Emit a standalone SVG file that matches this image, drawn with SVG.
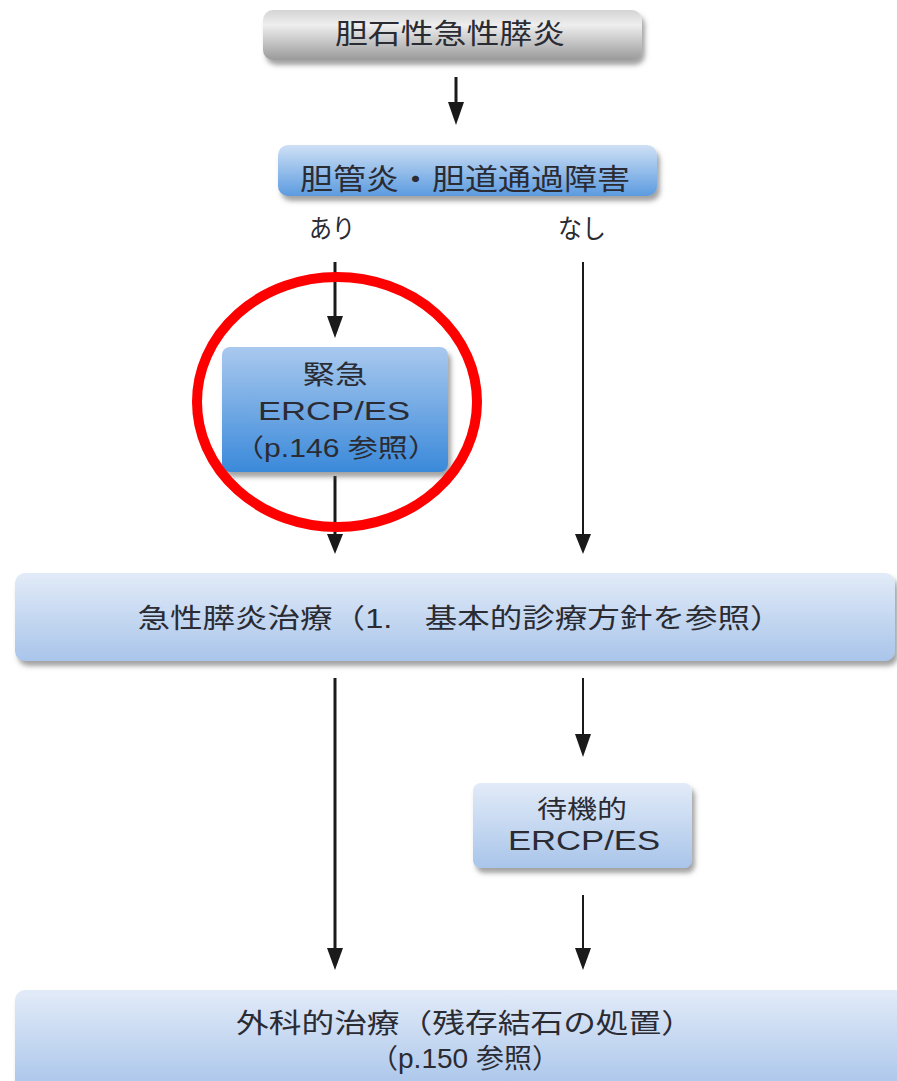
<svg xmlns="http://www.w3.org/2000/svg" width="897" height="1081" viewBox="0 0 897 1081">
<defs>
<linearGradient id="gGray" x1="0" y1="0" x2="0" y2="1">
<stop offset="0" stop-color="#d4d4d4"/>
<stop offset="0.3" stop-color="#eeeeee"/>
<stop offset="1" stop-color="#9a9a9a"/>
</linearGradient>
<linearGradient id="gBlue" x1="0" y1="0" x2="0" y2="1">
<stop offset="0" stop-color="#cfe0f5"/>
<stop offset="1" stop-color="#5b9be0"/>
</linearGradient>
<linearGradient id="gBlueStrong" x1="0" y1="0" x2="0" y2="1">
<stop offset="0" stop-color="#a9c9ee"/>
<stop offset="1" stop-color="#3a89da"/>
</linearGradient>
<linearGradient id="gPale" x1="0" y1="0" x2="0" y2="1">
<stop offset="0" stop-color="#e2ebf8"/>
<stop offset="1" stop-color="#a9c5ea"/>
</linearGradient>
<filter id="shadow" x="-10%" y="-20%" width="120%" height="150%">
<feDropShadow dx="3" dy="5" stdDeviation="2.5" flood-color="#555" flood-opacity="0.55"/>
</filter>
</defs>
<style>
.t{font-family:"Liberation Sans","Noto Sans CJK JP",sans-serif;fill:#2a2b33;text-anchor:middle;}
.c{fill:none;stroke:#1a1a1a;}
.thick{stroke-width:3;}
.thin{stroke-width:2;}
.head{fill:#1a1a1a;}
.box{filter:url(#shadow);}
</style>
<rect width="897" height="1081" fill="#ffffff"/>

<g id="connectors">
<line class="c thick" x1="456" y1="77" x2="456" y2="104"/>
<path class="head" d="M448,102 L464,102 L456,125 Z"/>
<line class="c thick" x1="335" y1="262" x2="335" y2="318"/>
<path class="head" d="M327,316 L343,316 L335,338 Z"/>
<line class="c thick" x1="335" y1="476" x2="335" y2="536"/>
<path class="head" d="M327,534 L343,534 L335,554 Z"/>
<line class="c thin" x1="583" y1="262" x2="583" y2="536"/>
<path class="head" d="M575,534 L591,534 L583,554 Z"/>
<line class="c thick" x1="335" y1="678" x2="335" y2="950"/>
<path class="head" d="M327,948 L343,948 L335,970 Z"/>
<line class="c thin" x1="583" y1="678" x2="583" y2="736"/>
<path class="head" d="M575,734 L591,734 L583,757 Z"/>
<line class="c thin" x1="583" y1="895" x2="583" y2="950"/>
<path class="head" d="M575,948 L591,948 L583,970 Z"/>
</g>

<g id="n1">
<rect class="box" x="263" y="10" width="379" height="50" rx="10" fill="url(#gGray)"/>
<text class="t" x="450" y="44" font-size="28" textLength="230" lengthAdjust="spacingAndGlyphs">胆石性急性膵炎</text>
</g>

<g id="n2">
<rect class="box" x="278" y="145" width="379" height="51" rx="10" fill="url(#gBlue)"/>
<text class="t" x="465" y="190" font-size="29" textLength="330" lengthAdjust="spacingAndGlyphs">胆管炎・胆道通過障害</text>
</g>

<g id="labels">
<text class="t" x="332" y="238" font-size="26" textLength="46" lengthAdjust="spacingAndGlyphs">あり</text>
<text class="t" x="582" y="238" font-size="26" textLength="48" lengthAdjust="spacingAndGlyphs">なし</text>
</g>

<g id="n3">
<rect class="box" x="222" y="347" width="226" height="125" rx="8" fill="url(#gBlueStrong)"/>
<text class="t" x="335" y="384" font-size="26" textLength="65" lengthAdjust="spacingAndGlyphs">緊急</text>
<text class="t" x="334" y="420" font-size="25" textLength="152" lengthAdjust="spacingAndGlyphs">ERCP/ES</text>
<text class="t" x="336" y="457" font-size="25" textLength="204" lengthAdjust="spacingAndGlyphs">（p.146 参照）</text>
</g>

<ellipse id="highlight" cx="337" cy="402" rx="140" ry="125" fill="none" stroke="#ff0000" stroke-width="10"/>

<g id="n4">
<rect class="box" x="15" y="573" width="880" height="88" rx="10" fill="url(#gPale)"/>
<text class="t" x="460" y="628" font-size="27" textLength="645" lengthAdjust="spacingAndGlyphs">急性膵炎治療（1.　基本的診療方針を参照）</text>
</g>

<g id="n5">
<rect class="box" x="473" y="783" width="219" height="85" rx="8" fill="url(#gPale)"/>
<text class="t" x="582" y="818" font-size="25" textLength="90" lengthAdjust="spacingAndGlyphs">待機的</text>
<text class="t" x="584" y="850" font-size="27" textLength="152" lengthAdjust="spacingAndGlyphs">ERCP/ES</text>
</g>

<g id="n6">
<rect class="box" x="15" y="990" width="890" height="100" rx="10" fill="url(#gPale)"/>
<text class="t" x="465" y="1033" font-size="27" textLength="458" lengthAdjust="spacingAndGlyphs">外科的治療（残存結石の処置）</text>
<text class="t" x="465" y="1068" font-size="27" textLength="190" lengthAdjust="spacingAndGlyphs">（p.150 参照）</text>
</g>
</svg>
